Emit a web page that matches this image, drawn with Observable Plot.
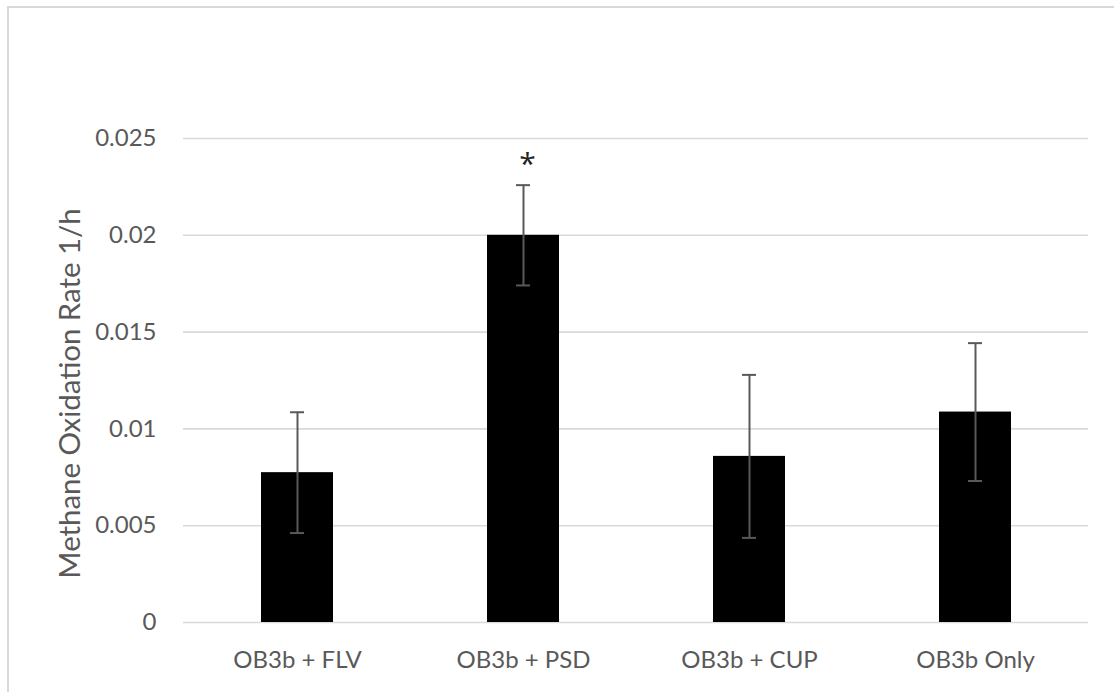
<!DOCTYPE html>
<html>
<head>
<meta charset="utf-8">
<script src="https://cdn.jsdelivr.net/npm/d3@7"></script>
<script src="https://cdn.jsdelivr.net/npm/@observablehq/plot@0.6"></script>
<style>
  html, body { margin: 0; padding: 0; background: #fff; overflow: hidden; }
  #wrap { position: relative; width: 1114px; height: 692px; }
  #frame { position: absolute; left: 7px; top: 6px; width: 1200px; height: 800px;
           border: 2px solid #d9d9d9; box-sizing: border-box; pointer-events: none; }
  #chart svg { display: block; }
</style>
</head>
<body>
<div id="wrap">
  <div id="chart"></div>
  <div id="frame"></div>
</div>
<script>
// Methane oxidation rate per treatment, mean ± error
const treatments = ["OB3b + FLV", "OB3b + PSD", "OB3b + CUP", "OB3b Only"];
const rates = [0.00774, 0.0200, 0.00858, 0.01087];
const errors = [0.00312, 0.00259, 0.00421, 0.00356];
const significance = ["", "*", "", ""];
const yTicks = [0, 0.005, 0.01, 0.015, 0.02, 0.025];
const yTickLabels = ["0", "0.005", "0.01", "0.015", "0.02", "0.025"];
const yTitle = "Methane Oxidation Rate 1/h";

const rows = treatments.map((t, i) => ({
  treatment: t,
  rate: rates[i],
  lo: rates[i] - errors[i],
  hi: rates[i] + errors[i],
  mark: significance[i]
}));

const font = "Lato, 'Open Sans', sans-serif";
const gray = "#595959";
const grid = "#d9d9d9";

const chart = Plot.plot({
  width: 1114,
  height: 692,
  marginLeft: 183,
  marginRight: 26,
  marginTop: 138,
  marginBottom: 70,
  style: { fontFamily: font, fontSize: "24px", color: gray, background: "#fff" },
  x: { domain: treatments, paddingInner: 0.682, paddingOuter: 0.341, label: null },
  y: { domain: [0, 0.025], label: null },
  marks: [
    Plot.gridY(yTicks.slice(1), { stroke: grid, strokeOpacity: 1, strokeWidth: 1.6 }),
    Plot.axisY({
      ticks: yTicks,
      tickFormat: (d) => yTickLabels[yTicks.indexOf(d)],
      tickSize: 0,
      tickPadding: 27,
      fontSize: 24,
      fill: gray,
      label: null
    }),
    Plot.axisX({
      tickSize: 0,
      tickPadding: 28,
      fontSize: 24,
      fill: gray,
      label: null
    }),
    Plot.ruleY([0], { stroke: grid, strokeWidth: 1.6 }),
    Plot.barY(rows, { x: "treatment", y: "rate", fill: "#000" }),
    // error bars with short caps
    Plot.ruleX(rows, { x: "treatment", y1: "lo", y2: "hi", stroke: gray, strokeWidth: 2 }),
    Plot.tickY(rows, { x: "treatment", y: "lo", stroke: gray, strokeWidth: 2, inset: 29 }),
    Plot.tickY(rows, { x: "treatment", y: "hi", stroke: gray, strokeWidth: 2, inset: 29 }),
    // significance marker above the error bar
    Plot.text(rows, {
      x: "treatment", y: "hi", text: "mark",
      dy: -21, dx: 4, fontSize: 30, fontFamily: "'Open Sans', sans-serif",
      fill: "#222", lineAnchor: "middle"
    }),
    Plot.text([yTitle], {
      frameAnchor: "left", textAnchor: "middle", rotate: -90, dx: -113, dy: 13,
      fontSize: 29.4, fill: gray
    })
  ]
});

document.getElementById("chart").append(chart);
</script>
</body>
</html>
